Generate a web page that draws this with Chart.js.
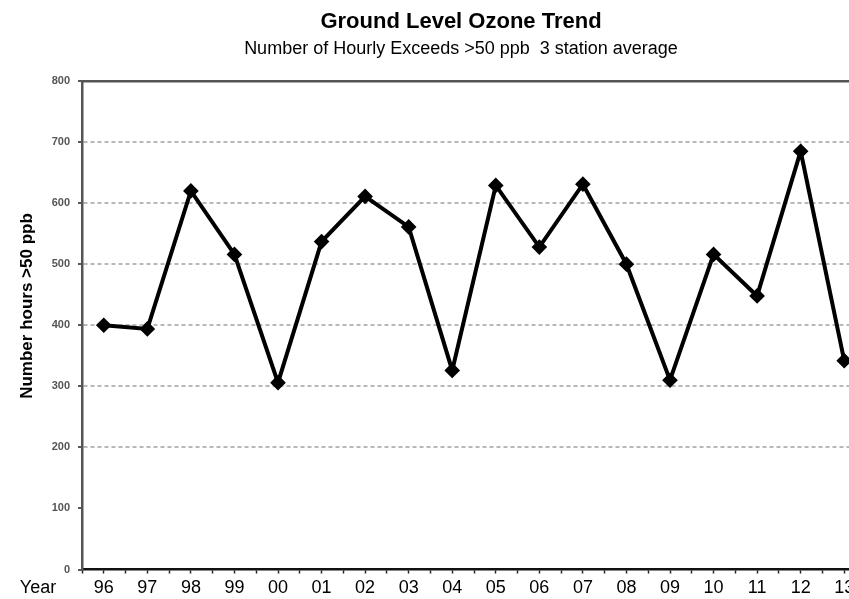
<!DOCTYPE html>
<html>
<head>
<meta charset="utf-8">
<script src="https://cdn.jsdelivr.net/npm/chart.js@4/dist/chart.umd.min.js"></script>
<style>
  html, body { margin: 0; padding: 0; background: #fff; overflow: hidden; }
  #wrap { width: 849px; height: 599px; overflow: hidden; }
</style>
</head>
<body>
<div id="wrap"><canvas id="chart" width="922" height="599"></canvas></div>
<script>
// Datos
const years = ['96', '97', '98', '99', '00', '01', '02', '03', '04', '05', '06', '07', '08', '09', '10', '11', '12', '13'];
const exceeds = [400, 394, 620, 516, 306, 537, 611, 561, 326, 629, 528, 631, 500, 310, 516, 448, 685, 342];
const yTicks = [0, 100, 200, 300, 400, 500, 600, 700, 800];

const ctx = document.querySelector('#chart').getContext('2d');
const fuente = '"Liberation Sans", Arial, sans-serif';

/* Textos fuera de las escalas: "Year" y el titulo del eje y */
const textosExtra = {
    id: 'textosExtra',
    afterDraw(chart) {
        const c = chart.ctx;
        c.save();
        c.fillStyle = '#000';
        c.textAlign = 'center';
        c.textBaseline = 'middle';
        c.font = '18px ' + fuente;
        c.fillText('Year', 38, 588);
        c.translate(27, 306);
        c.rotate(-Math.PI / 2);
        c.font = 'bold 17px ' + fuente;
        c.fillText('Number hours >50 ppb', 0, 0);
        c.restore();
    }
};

new Chart(ctx, {
    type: 'line',
    data: {
        datasets: [{
            label: 'Exceeds',
            data: exceeds.map((v, i) => ({ x: i, y: v })),
            borderColor: '#000',
            backgroundColor: '#000',
            borderWidth: 4,
            tension: 0,
            pointStyle: 'rectRot',
            pointRadius: 5,
            pointBackgroundColor: '#000',
            pointBorderColor: '#000'
        }]
    },
    options: {
        responsive: false,
        animation: false,
        layout: { padding: 0 },
        plugins: {
            legend: { display: false },
            tooltip: { enabled: false },
            title: {
                display: true,
                text: 'Ground Level Ozone Trend',
                color: '#000',
                font: { family: fuente, size: 22, weight: 'bold' },
                padding: { top: 9, bottom: 3 }
            },
            subtitle: {
                display: true,
                text: 'Number of Hourly Exceeds >50 ppb  3 station average',
                color: '#000',
                font: { family: fuente, size: 18 },
                padding: { top: 0, bottom: 21 }
            }
        },
        scales: {
            x: {
                type: 'linear',
                min: -0.5,
                max: years.length - 0.5,
                afterFit: s => { s.height = 29.5; },
                ticks: {
                    stepSize: 0.5,
                    autoSkip: false,
                    maxRotation: 0,
                    padding: 4,
                    color: '#000',
                    font: { family: fuente, size: 18 },
                    callback: v => Number.isInteger(v) ? years[v] : ''
                },
                grid: { drawOnChartArea: false, drawTicks: true, tickLength: 4, tickColor: '#222', tickWidth: 1.5 },
                border: { color: '#111', width: 2.5 }
            },
            x2: {
                type: 'linear',
                position: 'top',
                min: -0.5,
                max: years.length - 0.5,
                ticks: { display: false },
                grid: { display: false, drawTicks: false },
                border: { display: true, color: '#555', width: 2.5 }
            },
            y: {
                min: 0,
                max: 800,
                afterFit: s => { s.width = 82; },
                afterBuildTicks: s => { s.ticks = yTicks.map(v => ({ value: v })); },
                ticks: {
                    padding: 8,
                    color: '#555',
                    font: { family: fuente, size: 11, weight: 'bold' }
                },
                grid: {
                    color: c => (c.tick.value === 0 || c.tick.value === 100) ? 'rgba(0,0,0,0)' : '#b8b8b8',
                    lineWidth: 2,
                    tickColor: '#222',
                    tickLength: 4,
                    tickWidth: 1.5
                },
                border: { color: '#555', width: 2.5, dash: [4, 3] }
            },
            // eje vacio a la derecha: el grafico original sigue mas alla del borde
            y2: {
                position: 'right',
                min: 0,
                max: 800,
                afterFit: s => { s.width = 56; },
                ticks: { display: false },
                grid: { display: false, drawTicks: false },
                border: { display: false }
            }
        }
    },
    plugins: [textosExtra]
});
</script>
</body>
</html>
